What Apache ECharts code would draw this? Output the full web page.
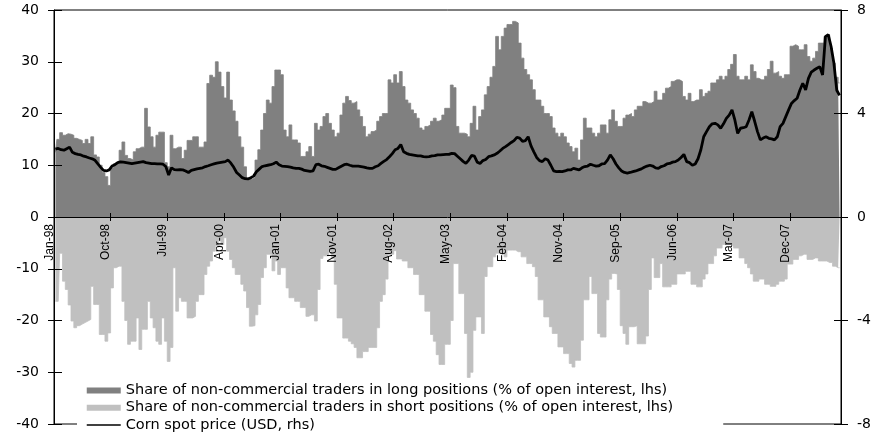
<!DOCTYPE html>
<html>
<head>
<meta charset="utf-8">
<script src="https://cdn.jsdelivr.net/npm/echarts@6/dist/echarts.min.js"></script>
<style>
  html, body { margin: 0; background: #fff; }
  #chart { width: 872px; height: 435px; }
</style>
</head>
<body>
<div id="chart"></div>
<script>
// fortnightly points, Jan-98 .. mid-2008, one label every 20 points (40 weeks)
const tickLabels = ['Jan-98', 'Oct-98', 'Jul-99', 'Apr-00', 'Jan-01', 'Nov-01', 'Aug-02',
  'May-03', 'Feb-04', 'Nov-04', 'Sep-05', 'Jun-06', 'Mar-07', 'Dec-07']

// % of open interest, lhs
const longShare = [
  12.5, 15, 16.3, 15.8, 16.1, 16.0, 15.8, 15.2, 15.0, 14.8,
  14.2, 15.0, 14.2, 15.5, 12.0, 11.6, 10.0, 8.6, 7.8, 6.1,
  9.5, 10.3, 10.3, 12.9, 14.5, 11.9, 11.3, 11.0, 12.6, 13.2,
  13.5, 13.5, 21.0, 17.4, 15.5, 13.5, 15.8, 16.4, 16.4, 10.5,
  9.7, 15.8, 13.2, 13.5, 13.5, 11.3, 12.9, 14.8, 14.8, 15.5,
  15.5, 13.5, 13.5, 14.5, 25.8, 27.4, 27.0, 30.0, 28.0, 25.2,
  23.0, 28.0, 22.6, 20.5, 18.5, 15.5, 13.5, 9.7, 7.5, 7.3,
  7.6, 11.0, 13.0, 16.8, 20.0, 22.6, 22.0, 25.2, 28.4, 28.4,
  27.5, 16.8, 15.5, 17.8, 14.9, 14.9, 14.3, 11.7, 11.7, 12.6,
  13.6, 11.7, 18.1, 16.8, 17.5, 19.4, 20.0, 18.1, 16.8, 15.5,
  16.2, 19.7, 22.0, 23.3, 22.5, 22.0, 22.3, 20.7, 19.4, 17.5,
  15.5, 16.0, 16.5, 16.8, 18.5, 19.4, 20.0, 20.0, 26.5, 25.9,
  27.5, 25.9, 28.1, 25.2, 22.6, 22.0, 20.7, 20.0, 19.1, 17.2,
  16.8, 17.5, 17.8, 18.5, 19.1, 18.5, 18.8, 19.7, 21.0, 21.0,
  25.5, 25.0, 17.5, 16.2, 16.2, 16.0, 15.5, 18.1, 21.4, 16.8,
  19.4, 20.7, 23.6, 25.2, 27.0, 29.1, 34.9, 32.3, 34.9, 36.5,
  37.2, 37.2, 37.8, 37.5, 33.6, 30.7, 28.5, 27.5, 26.5, 24.6,
  22.6, 22.6, 21.4, 20.0, 20.0, 19.4, 17.2, 16.2, 15.5, 16.2,
  15.5, 14.3, 13.6, 12.6, 13.3, 11.0, 14.9, 19.1, 17.2, 17.2,
  16.2, 15.5, 16.2, 17.8, 17.8, 16.2, 18.8, 20.7, 18.5, 17.5,
  17.5, 19.1, 19.7, 20.0, 19.4, 20.7, 21.4, 21.4, 22.3, 22.0,
  22.0, 22.3, 24.3, 22.6, 22.6, 23.9, 24.9, 25.2, 26.2, 26.5,
  26.5, 26.2, 23.3, 22.6, 23.9, 22.3, 22.6, 22.6, 24.6, 23.3,
  23.9, 24.3, 25.9, 25.9, 26.5, 27.2, 26.5, 27.2, 28.5, 29.5,
  31.4, 27.2, 26.5, 26.5, 27.2, 26.5, 29.4, 28.1, 26.8, 26.5,
  26.5, 27.2, 28.5, 30.1, 27.8, 28.1, 27.2, 26.8, 27.5, 27.5,
  33.0, 33.3, 33.0, 32.3, 32.3, 33.3, 31.0, 30.1, 30.7, 32.0,
  33.6, 33.6, 34.9, 35.2, 32.6, 29.7, 27.0, 25.9
]

const shortShare = [
  -16.3, -16.3, -7.0, -12.4, -14.0, -17.0, -20.1, -21.4, -21.0, -20.7,
  -20.4, -20.1, -19.8, -13.4, -16.9, -16.9, -22.7, -22.7, -24.0, -22.4,
  -13.7, -9.8, -9.5, -9.5, -16.3, -20.0, -24.6, -24.0, -24.0, -19.5,
  -25.6, -21.7, -21.7, -16.3, -19.5, -21.4, -24.0, -24.6, -19.5, -24.0,
  -27.9, -25.2, -9.8, -18.2, -15.6, -16.3, -16.3, -19.5, -19.5, -19.2,
  -16.3, -15.0, -15.0, -11.1, -9.5, -8.5, -6.6, -5.5, -4.6, -5.3,
  -4.0, -6.6, -8.2, -9.8, -11.1, -11.1, -13.0, -14.3, -17.5, -21.1,
  -21.0, -18.9, -16.9, -11.7, -9.8, -7.2, -7.2, -10.4, -8.5, -11.1,
  -9.8, -9.8, -13.7, -15.6, -15.6, -16.3, -16.3, -17.5, -17.5, -19.2,
  -18.9, -18.9, -20.1, -14.0, -8.0, -7.5, -7.5, -6.5, -8.0, -13.0,
  -19.5, -19.5, -23.4, -23.4, -24.0, -24.5, -25.2, -27.2, -27.2, -26.0,
  -26.0, -25.2, -25.2, -25.2, -21.4, -16.3, -15.0, -12.0, -7.2, -7.2,
  -6.5, -8.1, -8.1, -8.5, -8.5, -9.8, -9.8, -11.1, -11.1, -15.0,
  -15.0, -18.2, -18.2, -22.7, -24.0, -26.6, -28.5, -28.5, -24.6, -24.6,
  -20.0, -9.0, -9.0, -14.8, -14.8, -22.5, -31.0, -30.0, -21.9, -19.3,
  -19.3, -22.5, -11.5, -9.6, -9.6, -7.7, -7.0, -7.0, -7.0, -7.7,
  -6.4, -6.4, -6.4, -6.7, -6.7, -7.7, -7.7, -9.0, -9.0, -9.6,
  -11.5, -16.0, -16.0, -19.3, -19.3, -21.2, -22.5, -22.5, -25.1, -25.1,
  -26.4, -26.4, -28.3, -29.0, -27.7, -27.7, -23.8, -16.0, -16.0, -11.5,
  -14.8, -14.8, -22.5, -23.2, -23.2, -16.0, -12.0, -10.9, -11.0, -14.0,
  -21.0, -22.5, -24.6, -21.2, -21.2, -21.0, -24.5, -24.5, -24.5, -23.0,
  -14.0, -7.9, -11.7, -11.7, -9.0, -13.5, -13.5, -13.5, -13.0, -13.0,
  -11.0, -11.0, -11.0, -10.5, -10.5, -13.0, -13.0, -13.5, -13.5, -12.0,
  -11.0, -9.0, -9.0, -7.5, -6.0, -6.0, -5.3, -5.3, -5.3, -5.6,
  -6.0, -6.0, -7.9, -7.9, -9.0, -9.8, -11.0, -12.4, -12.4, -12.0,
  -12.0, -13.0, -13.0, -13.4, -13.4, -13.0, -12.4, -12.4, -12.0, -9.1,
  -9.1, -8.2, -8.2, -7.5, -7.2, -7.2, -8.2, -8.2, -7.9, -7.9,
  -8.5, -8.5, -8.5, -8.8, -8.8, -9.5, -9.8, -9.8
]

// USD, rhs
const cornPrice = [
  2.62, 2.65, 2.6, 2.58, 2.64, 2.7, 2.5, 2.45, 2.42, 2.4,
  2.35, 2.32, 2.28, 2.25, 2.19, 2.05, 1.92, 1.8, 1.78, 1.82,
  1.97, 2.02, 2.1, 2.13, 2.12, 2.1, 2.08, 2.06, 2.08, 2.1,
  2.12, 2.14, 2.1, 2.08, 2.06, 2.06, 2.05, 2.05, 2.04, 1.95,
  1.62, 1.9, 1.83, 1.82, 1.83, 1.82, 1.78, 1.72, 1.8, 1.83,
  1.86, 1.88, 1.9, 1.95, 1.98, 2.02, 2.05, 2.08, 2.1, 2.12,
  2.14, 2.2, 2.08, 1.92, 1.72, 1.62, 1.52, 1.48, 1.47, 1.52,
  1.58, 1.75, 1.85, 1.95, 1.98, 2.0, 2.02, 2.06, 2.12, 2.02,
  1.97, 1.96, 1.95, 1.93, 1.9, 1.88, 1.88, 1.85, 1.8, 1.78,
  1.76, 1.78, 2.02, 2.04, 1.98, 1.96, 1.92, 1.88, 1.84, 1.84,
  1.9, 1.96, 2.02, 2.04, 2.0, 1.97, 1.97, 1.97, 1.95, 1.93,
  1.9, 1.88, 1.88, 1.94, 1.98, 2.07, 2.15, 2.22, 2.33, 2.45,
  2.6, 2.65, 2.8, 2.52, 2.46, 2.42, 2.4, 2.38, 2.36, 2.36,
  2.33, 2.32, 2.33, 2.36, 2.37, 2.4, 2.4, 2.41, 2.42, 2.42,
  2.46, 2.45, 2.35, 2.25, 2.15, 2.07, 2.2, 2.38, 2.35, 2.12,
  2.07, 2.18, 2.22, 2.33, 2.36, 2.4, 2.46, 2.55, 2.65, 2.72,
  2.8, 2.88, 2.95, 3.08, 3.05, 2.92, 2.95, 3.1, 2.75, 2.52,
  2.3, 2.18, 2.14, 2.25, 2.2, 2.0, 1.78, 1.75, 1.76, 1.75,
  1.78, 1.82, 1.82, 1.88, 1.85, 1.82, 1.9, 1.95, 1.97, 2.04,
  2.0, 1.97, 1.98, 2.05, 2.06, 2.2, 2.4, 2.25, 2.05, 1.9,
  1.78, 1.72, 1.7, 1.72, 1.75, 1.78, 1.82, 1.86, 1.92, 1.97,
  2.0, 1.97, 1.9, 1.88, 1.95, 1.98, 2.05, 2.07, 2.12, 2.14,
  2.2, 2.3, 2.42, 2.14, 2.1, 2.0, 2.05, 2.25, 2.6, 3.1,
  3.3, 3.49, 3.6, 3.62, 3.56, 3.43, 3.6, 3.81, 3.94, 4.14,
  3.75, 3.23, 3.43, 3.45, 3.49, 3.75, 4.07, 3.7, 3.3, 2.98,
  3.05, 3.1, 3.04, 3.02, 2.98, 3.1, 3.49, 3.62, 3.88, 4.14,
  4.39, 4.5, 4.59, 4.91, 5.17, 4.91, 5.36, 5.6, 5.68, 5.75,
  5.81, 5.49, 6.97, 7.05, 6.59, 5.94, 4.9, 4.7
]

const LABEL_STEP = 20
const categories = longShare.map((_, i) => String(i))

const nameLong = 'Share of non-commercial traders in long positions (% of open interest, lhs)'
const nameShort = 'Share of non-commercial traders in short positions (% of open interest, lhs)'
const namePrice = 'Corn spot price (USD, rhs)'

// grid: 435 high, 10 top + 11 bottom -> zero of lhs sits 207px above the bottom edge
const GRID_TOP = 10
const GRID_BOTTOM = 11
const ZERO_OFFSET = -(435 - GRID_TOP - GRID_BOTTOM) / 2

const chart = echarts.init(document.getElementById('chart'), null, { renderer: 'canvas' })

const axisFont = { color: '#000', fontFamily: 'DejaVu Sans', fontSize: 14 }

// y axes: 0 = lhs, 1 = rhs, 2/3 = same scales again, only for the inner half of the ticks
const yAxis = [
  {
    type: 'value', position: 'left', min: -40, max: 40, interval: 10, z: 3,
    axisLine: { show: true, lineStyle: { color: '#000', width: 1 } },
    axisTick: { show: true, length: 6, lineStyle: { color: '#000' } },
    axisLabel: { ...axisFont, margin: 15 },
    splitLine: { show: false }
  },
  {
    type: 'value', position: 'right', min: -8, max: 8, interval: 4, z: 3,
    axisLine: { show: true, lineStyle: { color: '#000', width: 1 } },
    axisTick: { show: true, length: 7, lineStyle: { color: '#000' } },
    axisLabel: { ...axisFont, margin: 16 },
    splitLine: { show: false }
  },
  {
    type: 'value', position: 'left', min: -40, max: 40, interval: 10, z: 3,
    axisLine: { show: false },
    axisTick: { show: true, inside: true, length: 8, lineStyle: { color: '#000' } },
    axisLabel: { show: false },
    splitLine: { show: false }
  },
  {
    type: 'value', position: 'right', min: -8, max: 8, interval: 4, z: 3,
    axisLine: { show: false },
    axisTick: { show: true, inside: true, length: 7, lineStyle: { color: '#000' } },
    axisLabel: { show: false },
    splitLine: { show: false }
  }
]

// category axis moved up onto the zero line with offset (onZero would keep the labels at the bottom)
const xAxis = [
  {
    type: 'category', data: categories, position: 'bottom', offset: ZERO_OFFSET, z: 3,
    axisLine: { show: true, onZero: false, lineStyle: { color: '#000', width: 1 } },
    axisTick: { show: true, interval: LABEL_STEP - 1, length: 4, lineStyle: { color: '#000' } },
    axisLabel: {
      interval: LABEL_STEP - 1,
      rotate: 90,
      margin: 7,
      verticalAlign: 'bottom',
      color: '#000',
      fontFamily: 'Liberation Sans',
      fontSize: 12,
      formatter: (v, i) => (i % LABEL_STEP === 0 ? tickLabels[i / LABEL_STEP] || '' : '')
    },
    splitLine: { show: false }
  },
  {
    type: 'category', data: categories, position: 'bottom', offset: ZERO_OFFSET, z: 3,
    axisLine: { show: false, onZero: false },
    axisTick: { show: true, inside: true, interval: LABEL_STEP - 1, length: 4, lineStyle: { color: '#000' } },
    axisLabel: { show: false },
    splitLine: { show: false }
  }
]

// filled step areas: one flat-topped column per fortnight, without seams between them
const stepArea = (name, data, color) => ({
  name, type: 'line', data, step: 'middle',
  symbol: 'none',
  color,
  lineStyle: { width: 0.8, color },
  areaStyle: { color, opacity: 1 },
  itemStyle: { color },
  z: 2
})

chart.setOption({
  animation: false,
  backgroundColor: '#fff',
  grid: {
    left: 54, right: 31, top: GRID_TOP, bottom: GRID_BOTTOM,
    containLabel: false,
    outerBoundsMode: 'none',
    show: true, borderColor: '#000', borderWidth: 1, backgroundColor: 'transparent'
  },
  legend: {
    orient: 'vertical',
    left: 77,
    top: 380,
    height: 52,
    padding: [3, 50, 1, 9],
    itemGap: 2.2,
    itemWidth: 34,
    itemHeight: 6,
    backgroundColor: '#fff',
    textStyle: { color: '#000', fontFamily: 'DejaVu Sans', fontSize: 14.5, lineHeight: 15 },
    data: [
      { name: nameLong, icon: 'rect', itemStyle: { color: '#808080' } },
      { name: nameShort, icon: 'rect', itemStyle: { color: '#c0c0c0' } },
      { name: namePrice, lineStyle: { width: 1.5 }, itemStyle: { opacity: 0 } }
    ]
  },
  xAxis,
  yAxis,
  series: [
    stepArea(nameLong, longShare, '#808080'),
    stepArea(nameShort, shortShare, '#c0c0c0'),
    {
      name: namePrice, type: 'line', yAxisIndex: 1, data: cornPrice,
      symbol: 'none', smooth: false,
      lineStyle: { color: '#000', width: 2.8 },
      itemStyle: { color: '#000' },
      z: 5
    }
  ]
})
</script>
</body>
</html>
